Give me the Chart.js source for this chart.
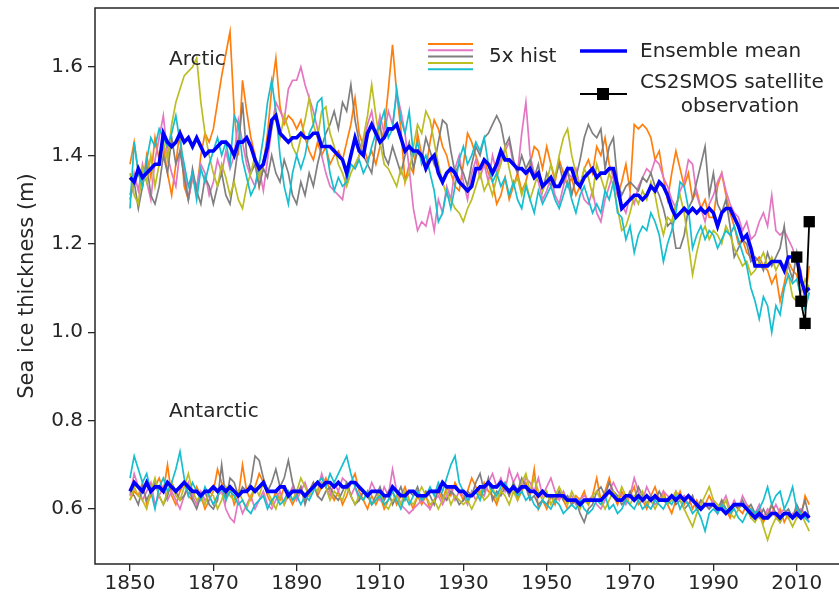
<!DOCTYPE html>
<html>
<head>
<meta charset="utf-8">
<script src="https://cdn.jsdelivr.net/npm/chart.js@4.4.1/dist/chart.umd.min.js"></script>
<style>
  html, body { margin: 0; padding: 0; background: #fff; overflow: hidden; }
  #wrap { width: 860px; height: 600px; position: relative; }
</style>
</head>
<body>
<div id="wrap"><canvas id="ice_chart" width="860" height="600"></canvas></div>
<script>
// years 1850..2013, one value per year
var firstYear = 1850;
var nYears = 164;
var years = Array.from({length: nYears}, function(_, i) { return firstYear + i; });

var xTicks = [1850, 1870, 1890, 1910, 1930, 1950, 1970, 1990, 2010];
var yTicks = [0.6, 0.8, 1.0, 1.2, 1.4, 1.6];

// Arctic, 5 historical members
var arcOrange = [
  1.38,1.43,1.36,1.33,1.40,1.35,1.44,1.39,1.42,1.36,
  1.31,1.38,1.46,1.33,1.30,1.35,1.32,1.40,1.45,1.43,
  1.46,1.52,1.58,1.63,1.68,1.50,1.40,1.57,1.50,1.44,
  1.40,1.33,1.38,1.45,1.55,1.62,1.51,1.47,1.49,1.48,
  1.46,1.48,1.44,1.41,1.39,1.43,1.40,1.42,1.38,1.40,
  1.41,1.39,1.43,1.47,1.53,1.45,1.42,1.39,1.41,1.38,
  1.42,1.46,1.55,1.65,1.54,1.46,1.34,1.38,1.36,1.45,
  1.40,1.37,1.43,1.48,1.46,1.42,1.40,1.36,1.33,1.32,
  1.38,1.45,1.43,1.40,1.37,1.39,1.36,1.34,1.29,1.31,
  1.35,1.30,1.33,1.36,1.32,1.34,1.38,1.42,1.41,1.37,
  1.42,1.38,1.34,1.39,1.36,1.33,1.35,1.31,1.33,1.37,
  1.39,1.36,1.42,1.40,1.44,1.38,1.35,1.31,1.34,1.38,
  1.32,1.47,1.46,1.47,1.46,1.44,1.39,1.41,1.35,1.30,
  1.36,1.41,1.37,1.33,1.36,1.30,1.32,1.28,1.30,1.26,
  1.26,1.33,1.36,1.31,1.27,1.24,1.20,1.21,1.18,1.17,
  1.16,1.17,1.15,1.14,1.11,1.13,1.07,1.11,1.16,1.14,
  1.13,1.08,1.07,1.15
];
var arcPink = [
  1.31,1.36,1.32,1.38,1.34,1.30,1.39,1.44,1.49,1.40,
  1.36,1.33,1.41,1.37,1.30,1.35,1.33,1.38,1.36,1.31,
  1.34,1.39,1.36,1.41,1.37,1.40,1.48,1.43,1.38,1.35,
  1.33,1.37,1.32,1.39,1.46,1.52,1.50,1.48,1.55,1.57,
  1.57,1.60,1.56,1.53,1.50,1.46,1.40,1.36,1.33,1.32,
  1.31,1.30,1.36,1.38,1.37,1.40,1.43,1.47,1.50,1.44,
  1.49,1.45,1.50,1.47,1.54,1.50,1.45,1.37,1.28,1.23,
  1.25,1.24,1.28,1.23,1.30,1.27,1.33,1.30,1.37,1.40,
  1.34,1.30,1.36,1.39,1.35,1.38,1.34,1.40,1.36,1.39,
  1.41,1.43,1.38,1.36,1.45,1.52,1.40,1.36,1.34,1.30,
  1.32,1.35,1.31,1.29,1.33,1.36,1.35,1.37,1.33,1.30,
  1.29,1.32,1.27,1.25,1.30,1.33,1.36,1.31,1.29,1.27,
  1.31,1.29,1.33,1.35,1.37,1.36,1.39,1.38,1.35,1.33,
  1.30,1.28,1.32,1.34,1.39,1.38,1.31,1.28,1.25,1.29,
  1.31,1.34,1.36,1.32,1.29,1.27,1.26,1.23,1.25,1.21,
  1.22,1.25,1.27,1.24,1.31,1.23,1.22,1.23,1.21,1.19,
  1.16,1.14,1.06,1.09
];
var arcGray = [
  1.30,1.34,1.28,1.33,1.38,1.31,1.29,1.33,1.40,1.36,
  1.44,1.38,1.41,1.35,1.30,1.37,1.32,1.29,1.35,1.33,
  1.29,1.33,1.36,1.31,1.29,1.35,1.42,1.52,1.40,1.36,
  1.38,1.33,1.37,1.35,1.40,1.36,1.34,1.39,1.36,1.31,
  1.29,1.34,1.31,1.36,1.33,1.38,1.42,1.45,1.47,1.50,
  1.46,1.52,1.50,1.56,1.48,1.43,1.40,1.38,1.36,1.43,
  1.47,1.40,1.38,1.42,1.39,1.36,1.40,1.43,1.37,1.41,
  1.39,1.44,1.41,1.38,1.43,1.48,1.47,1.41,1.36,1.38,
  1.36,1.33,1.38,1.42,1.40,1.44,1.45,1.47,1.49,1.47,
  1.42,1.44,1.39,1.36,1.40,1.37,1.39,1.35,1.38,1.32,
  1.36,1.33,1.35,1.38,1.34,1.37,1.31,1.35,1.39,1.44,
  1.47,1.45,1.44,1.46,1.37,1.42,1.44,1.34,1.31,1.33,
  1.34,1.33,1.32,1.35,1.34,1.36,1.33,1.31,1.28,1.24,
  1.25,1.19,1.19,1.22,1.28,1.30,1.34,1.38,1.42,1.31,
  1.36,1.29,1.27,1.30,1.24,1.17,1.19,1.21,1.20,1.16,
  1.17,1.16,1.14,1.18,1.15,1.17,1.19,1.24,1.15,1.12,
  1.18,1.12,1.09,1.10
];
var arcOlive = [
  1.36,1.31,1.29,1.37,1.34,1.40,1.33,1.38,1.43,1.39,
  1.47,1.52,1.55,1.58,1.59,1.60,1.62,1.52,1.45,1.40,
  1.36,1.33,1.38,1.35,1.31,1.34,1.30,1.28,1.33,1.36,
  1.40,1.35,1.39,1.43,1.46,1.50,1.44,1.49,1.46,1.42,
  1.40,1.44,1.48,1.53,1.47,1.44,1.50,1.51,1.45,1.42,
  1.38,1.36,1.33,1.36,1.38,1.40,1.44,1.49,1.56,1.49,
  1.43,1.38,1.37,1.35,1.33,1.37,1.34,1.36,1.42,1.47,
  1.45,1.50,1.48,1.43,1.38,1.34,1.31,1.30,1.28,1.27,
  1.25,1.28,1.30,1.33,1.36,1.32,1.34,1.31,1.35,1.38,
  1.42,1.37,1.33,1.35,1.31,1.34,1.30,1.33,1.36,1.32,
  1.34,1.38,1.35,1.40,1.44,1.46,1.40,1.36,1.33,1.37,
  1.35,1.31,1.38,1.35,1.32,1.36,1.33,1.28,1.23,1.24,
  1.27,1.31,1.29,1.32,1.30,1.34,1.31,1.26,1.22,1.26,
  1.25,1.29,1.31,1.27,1.20,1.13,1.18,1.22,1.24,1.21,
  1.23,1.22,1.20,1.24,1.22,1.19,1.17,1.15,1.16,1.13,
  1.14,1.16,1.18,1.15,1.17,1.14,1.16,1.15,1.13,1.08,
  1.07,1.09,1.12,1.10
];
var arcCyan = [
  1.28,1.43,1.36,1.33,1.39,1.44,1.42,1.46,1.44,1.42,
  1.45,1.49,1.43,1.38,1.33,1.36,1.30,1.37,1.34,1.38,
  1.41,1.44,1.40,1.43,1.38,1.49,1.47,1.39,1.35,1.31,
  1.33,1.38,1.44,1.52,1.57,1.50,1.40,1.33,1.29,1.36,
  1.40,1.37,1.40,1.45,1.47,1.52,1.53,1.42,1.36,1.32,
  1.35,1.33,1.34,1.38,1.37,1.39,1.36,1.38,1.42,1.45,
  1.47,1.50,1.44,1.46,1.55,1.48,1.45,1.50,1.40,1.43,
  1.38,1.40,1.36,1.32,1.25,1.27,1.32,1.28,1.33,1.39,
  1.42,1.38,1.40,1.43,1.41,1.44,1.38,1.34,1.36,1.33,
  1.35,1.31,1.34,1.30,1.28,1.33,1.30,1.27,1.32,1.29,
  1.31,1.33,1.30,1.28,1.31,1.34,1.30,1.27,1.31,1.33,
  1.30,1.27,1.29,1.27,1.32,1.30,1.34,1.27,1.26,1.21,
  1.24,1.18,1.22,1.24,1.23,1.27,1.25,1.22,1.16,1.20,
  1.23,1.27,1.34,1.33,1.28,1.19,1.22,1.24,1.21,1.23,
  1.22,1.19,1.21,1.23,1.22,1.24,1.21,1.18,1.15,1.10,
  1.07,1.03,1.08,1.06,1.00,1.06,1.04,1.10,1.13,1.11,
  1.12,1.08,1.05,1.09
];
var arcMean = [
  1.35,1.34,1.37,1.35,1.36,1.37,1.38,1.38,1.45,1.43,
  1.42,1.43,1.45,1.43,1.44,1.42,1.44,1.42,1.40,1.41,
  1.41,1.42,1.43,1.43,1.42,1.40,1.43,1.43,1.44,1.42,
  1.39,1.37,1.38,1.42,1.48,1.49,1.45,1.44,1.43,1.44,
  1.44,1.45,1.44,1.44,1.45,1.45,1.42,1.42,1.42,1.41,
  1.40,1.39,1.36,1.40,1.44,1.41,1.40,1.45,1.47,1.45,
  1.43,1.44,1.46,1.46,1.47,1.44,1.41,1.42,1.41,1.41,
  1.40,1.37,1.39,1.40,1.36,1.34,1.36,1.37,1.36,1.34,
  1.33,1.32,1.33,1.37,1.37,1.39,1.38,1.36,1.38,1.41,
  1.39,1.39,1.38,1.37,1.37,1.36,1.37,1.35,1.36,1.33,
  1.34,1.35,1.33,1.33,1.35,1.37,1.37,1.34,1.33,1.35,
  1.36,1.37,1.35,1.36,1.36,1.37,1.37,1.33,1.28,1.29,
  1.30,1.31,1.31,1.30,1.31,1.33,1.32,1.34,1.33,1.31,
  1.28,1.26,1.27,1.28,1.27,1.28,1.27,1.28,1.27,1.28,
  1.27,1.24,1.27,1.28,1.28,1.26,1.24,1.21,1.22,1.19,
  1.15,1.15,1.15,1.15,1.16,1.16,1.16,1.14,1.17,1.17,
  1.17,1.12,1.09,1.10
];

// Antarctic, 5 historical members
var antOrange = [
  0.62,0.64,0.63,0.66,0.61,0.63,0.65,0.67,0.64,0.70,
  0.63,0.61,0.64,0.66,0.63,0.62,0.65,0.63,0.60,0.62,
  0.64,0.69,0.66,0.63,0.65,0.61,0.63,0.70,0.64,0.62,
  0.65,0.68,0.66,0.63,0.61,0.64,0.62,0.65,0.63,0.61,
  0.63,0.65,0.62,0.64,0.66,0.63,0.65,0.67,0.64,0.62,
  0.64,0.61,0.63,0.66,0.68,0.64,0.62,0.60,0.63,0.61,
  0.63,0.60,0.62,0.64,0.61,0.63,0.65,0.62,0.60,0.63,
  0.61,0.63,0.60,0.62,0.64,0.62,0.65,0.63,0.66,0.64,
  0.62,0.64,0.67,0.65,0.63,0.66,0.64,0.63,0.61,0.64,
  0.66,0.63,0.65,0.62,0.64,0.66,0.63,0.69,0.60,0.62,
  0.60,0.63,0.61,0.64,0.62,0.60,0.61,0.63,0.62,0.64,
  0.61,0.63,0.67,0.62,0.64,0.67,0.63,0.61,0.64,0.62,
  0.63,0.65,0.61,0.62,0.60,0.63,0.65,0.62,0.64,0.61,
  0.59,0.62,0.64,0.61,0.63,0.60,0.62,0.60,0.61,0.63,
  0.61,0.59,0.62,0.60,0.58,0.61,0.60,0.59,0.61,0.60,
  0.58,0.60,0.57,0.59,0.61,0.58,0.60,0.57,0.59,0.58,
  0.60,0.58,0.63,0.61
];
var antPink = [
  0.63,0.68,0.65,0.62,0.64,0.66,0.61,0.63,0.65,0.62,
  0.64,0.62,0.60,0.63,0.66,0.63,0.61,0.64,0.62,0.63,
  0.61,0.63,0.64,0.60,0.58,0.57,0.62,0.59,0.61,0.63,
  0.60,0.62,0.64,0.61,0.60,0.62,0.64,0.61,0.63,0.65,
  0.62,0.64,0.66,0.63,0.65,0.64,0.68,0.65,0.63,0.66,
  0.64,0.67,0.66,0.63,0.65,0.62,0.64,0.63,0.66,0.64,
  0.62,0.65,0.63,0.69,0.64,0.61,0.60,0.59,0.60,0.61,
  0.62,0.61,0.60,0.62,0.63,0.61,0.63,0.65,0.62,0.64,
  0.63,0.61,0.64,0.62,0.64,0.63,0.66,0.68,0.65,0.67,
  0.64,0.69,0.66,0.68,0.65,0.67,0.66,0.64,0.67,0.63,
  0.65,0.67,0.64,0.62,0.64,0.62,0.63,0.61,0.62,0.63,
  0.62,0.63,0.61,0.60,0.62,0.64,0.66,0.64,0.63,0.61,
  0.63,0.67,0.64,0.62,0.65,0.63,0.61,0.62,0.64,0.63,
  0.62,0.64,0.62,0.63,0.61,0.63,0.60,0.62,0.61,0.60,
  0.62,0.59,0.61,0.63,0.60,0.62,0.60,0.63,0.61,0.58,
  0.59,0.61,0.58,0.60,0.59,0.61,0.59,0.60,0.58,0.59,
  0.58,0.60,0.59,0.57
];
var antGray = [
  0.64,0.63,0.61,0.65,0.62,0.64,0.66,0.63,0.61,0.63,
  0.66,0.64,0.62,0.63,0.65,0.62,0.60,0.63,0.64,0.61,
  0.60,0.62,0.70,0.62,0.67,0.66,0.63,0.65,0.64,0.66,
  0.72,0.71,0.67,0.64,0.66,0.69,0.65,0.67,0.71,0.66,
  0.63,0.65,0.61,0.64,0.66,0.63,0.62,0.64,0.65,0.63,
  0.62,0.64,0.66,0.63,0.61,0.62,0.64,0.63,0.61,0.63,
  0.65,0.62,0.64,0.61,0.63,0.65,0.62,0.64,0.63,0.65,
  0.62,0.64,0.63,0.61,0.65,0.63,0.62,0.64,0.63,0.61,
  0.62,0.64,0.63,0.66,0.68,0.64,0.67,0.62,0.64,0.63,
  0.65,0.63,0.66,0.64,0.67,0.65,0.62,0.63,0.61,0.62,
  0.61,0.63,0.62,0.64,0.62,0.63,0.61,0.62,0.59,0.57,
  0.60,0.61,0.64,0.65,0.63,0.66,0.64,0.63,0.61,0.62,
  0.64,0.62,0.65,0.63,0.61,0.63,0.62,0.64,0.62,0.61,
  0.63,0.61,0.62,0.60,0.61,0.63,0.60,0.62,0.61,0.60,
  0.61,0.60,0.62,0.60,0.59,0.61,0.60,0.62,0.60,0.61,
  0.59,0.58,0.60,0.58,0.61,0.59,0.57,0.59,0.60,0.58,
  0.61,0.59,0.62,0.58
];
var antOlive = [
  0.62,0.65,0.63,0.62,0.60,0.64,0.67,0.63,0.61,0.64,
  0.66,0.63,0.62,0.65,0.68,0.64,0.62,0.63,0.61,0.64,
  0.63,0.60,0.62,0.65,0.63,0.62,0.64,0.62,0.60,0.63,
  0.65,0.63,0.66,0.64,0.62,0.60,0.63,0.61,0.64,0.62,
  0.64,0.67,0.65,0.63,0.65,0.64,0.66,0.65,0.62,0.64,
  0.63,0.62,0.65,0.63,0.61,0.63,0.62,0.64,0.61,0.62,
  0.64,0.61,0.60,0.62,0.63,0.61,0.64,0.62,0.61,0.63,
  0.65,0.63,0.61,0.62,0.60,0.62,0.64,0.61,0.63,0.62,
  0.61,0.62,0.60,0.62,0.64,0.62,0.63,0.65,0.62,0.64,
  0.63,0.61,0.64,0.62,0.66,0.68,0.64,0.67,0.64,0.62,
  0.64,0.61,0.63,0.65,0.63,0.61,0.64,0.62,0.60,0.62,
  0.61,0.63,0.64,0.62,0.60,0.62,0.64,0.62,0.65,0.63,
  0.61,0.63,0.62,0.64,0.61,0.62,0.60,0.62,0.63,0.61,
  0.62,0.64,0.62,0.60,0.58,0.56,0.59,0.61,0.63,0.65,
  0.62,0.61,0.60,0.62,0.59,0.58,0.60,0.61,0.60,0.58,
  0.57,0.59,0.56,0.53,0.56,0.58,0.57,0.59,0.58,0.56,
  0.58,0.59,0.57,0.55
];
var antCyan = [
  0.67,0.72,0.69,0.66,0.68,0.64,0.60,0.65,0.67,0.64,
  0.66,0.69,0.73,0.67,0.63,0.66,0.64,0.62,0.65,0.63,
  0.61,0.63,0.65,0.62,0.64,0.63,0.61,0.62,0.60,0.59,
  0.61,0.62,0.63,0.60,0.62,0.63,0.61,0.62,0.64,0.62,
  0.63,0.61,0.63,0.62,0.64,0.66,0.67,0.65,0.68,0.66,
  0.68,0.70,0.72,0.68,0.65,0.63,0.62,0.64,0.61,0.62,
  0.63,0.61,0.62,0.64,0.62,0.60,0.63,0.61,0.63,0.64,
  0.62,0.63,0.65,0.63,0.66,0.64,0.67,0.70,0.72,0.66,
  0.64,0.62,0.63,0.64,0.62,0.65,0.66,0.64,0.63,0.65,
  0.66,0.64,0.65,0.63,0.64,0.62,0.63,0.61,0.60,0.62,
  0.61,0.60,0.62,0.61,0.59,0.60,0.61,0.60,0.62,0.60,
  0.59,0.60,0.62,0.61,0.63,0.60,0.61,0.59,0.60,0.62,
  0.61,0.60,0.62,0.60,0.61,0.60,0.62,0.61,0.60,0.62,
  0.61,0.63,0.60,0.62,0.61,0.59,0.60,0.58,0.55,0.59,
  0.60,0.59,0.61,0.60,0.59,0.60,0.58,0.57,0.59,0.60,
  0.59,0.60,0.62,0.65,0.61,0.63,0.64,0.60,0.62,0.65,
  0.60,0.59,0.58,0.57
];
var antMean = [
  0.64,0.66,0.65,0.64,0.66,0.64,0.65,0.65,0.64,0.66,
  0.65,0.64,0.65,0.66,0.65,0.64,0.64,0.63,0.64,0.64,
  0.65,0.64,0.65,0.64,0.65,0.64,0.63,0.64,0.64,0.65,
  0.64,0.65,0.66,0.64,0.64,0.64,0.65,0.65,0.63,0.64,
  0.64,0.64,0.63,0.64,0.65,0.66,0.65,0.66,0.66,0.65,
  0.66,0.65,0.65,0.66,0.66,0.65,0.64,0.63,0.64,0.64,
  0.64,0.63,0.63,0.65,0.64,0.63,0.63,0.64,0.64,0.63,
  0.63,0.63,0.64,0.64,0.64,0.66,0.65,0.65,0.65,0.64,
  0.64,0.63,0.63,0.64,0.65,0.65,0.66,0.65,0.65,0.66,
  0.65,0.64,0.65,0.64,0.65,0.65,0.64,0.64,0.63,0.64,
  0.63,0.63,0.63,0.63,0.63,0.62,0.62,0.62,0.61,0.62,
  0.62,0.62,0.62,0.62,0.63,0.64,0.63,0.62,0.62,0.63,
  0.63,0.62,0.63,0.62,0.63,0.62,0.63,0.62,0.62,0.62,
  0.63,0.62,0.63,0.62,0.63,0.62,0.61,0.60,0.61,0.61,
  0.61,0.60,0.60,0.59,0.60,0.61,0.61,0.61,0.60,0.59,
  0.58,0.59,0.58,0.58,0.59,0.59,0.58,0.59,0.59,0.58,
  0.59,0.58,0.59,0.58
];

// CS2SMOS satellite observation
var obsYears = [2010, 2011, 2012, 2013];
var obsValues = [1.17, 1.07, 1.02, 1.25];

var memberColors = {
    orange: '#ff7f0e',
    pink:   '#e377c2',
    gray:   '#7f7f7f',
    olive:  '#bcbd22',
    cyan:   '#17becf'
};
var textColor = '#262626';
var spineColor = '#262626';
var fontFamily = '"DejaVu Sans", sans-serif';

function pts(xs, ys) {
    return xs.map(function(x, i) { return {x: x, y: ys[i]}; });
}

function member(data, col) {
    return {
        data: pts(years, data),
        borderColor: col,
        borderWidth: 1.7,
        pointRadius: 0,
        fill: false,
        tension: 0
    };
}

// first dataset is drawn on top
var datasets = [
    {
        data: pts(obsYears, obsValues),
        borderColor: '#000',
        backgroundColor: '#000',
        borderWidth: 1.8,
        pointStyle: 'rect',
        pointRadius: 8,
        pointBorderWidth: 0,
        tension: 0
    },
    { data: pts(years, arcMean), borderColor: '#0000ff', borderWidth: 3.6, pointRadius: 0, tension: 0 },
    { data: pts(years, antMean), borderColor: '#0000ff', borderWidth: 3.6, pointRadius: 0, tension: 0 },
    member(arcCyan, memberColors.cyan),
    member(arcOlive, memberColors.olive),
    member(arcGray, memberColors.gray),
    member(arcPink, memberColors.pink),
    member(arcOrange, memberColors.orange),
    member(antCyan, memberColors.cyan),
    member(antOlive, memberColors.olive),
    member(antGray, memberColors.gray),
    member(antPink, memberColors.pink),
    member(antOrange, memberColors.orange)
];

// spines, region labels and the hand-made legend
var decorations = {
    id: 'decorations',
    afterDraw: function(chart) {
        var ctx = chart.ctx;
        var a = chart.chartArea;
        ctx.save();
        ctx.strokeStyle = spineColor;
        ctx.lineWidth = 1.5;
        ctx.beginPath();
        ctx.moveTo(a.right, a.top);
        ctx.lineTo(a.left, a.top);
        ctx.lineTo(a.left, a.bottom);
        ctx.lineTo(a.right, a.bottom);
        ctx.stroke();

        ctx.fillStyle = textColor;
        ctx.font = '20px ' + fontFamily;
        ctx.textBaseline = 'middle';
        ctx.textAlign = 'left';
        ctx.fillText('Arctic', 169, 60);
        ctx.fillText('Antarctic', 169, 412);

        // legend: five member colours stacked
        var stack = [memberColors.orange, memberColors.pink, memberColors.gray, memberColors.olive, memberColors.cyan];
        ctx.lineWidth = 2;
        stack.forEach(function(c, i) {
            ctx.strokeStyle = c;
            ctx.beginPath();
            ctx.moveTo(428, 44 + i * 6.3);
            ctx.lineTo(473, 44 + i * 6.3);
            ctx.stroke();
        });
        ctx.fillText('5x hist', 489, 57);

        ctx.strokeStyle = '#0000ff';
        ctx.lineWidth = 3.6;
        ctx.beginPath();
        ctx.moveTo(580, 51);
        ctx.lineTo(627, 51);
        ctx.stroke();
        ctx.fillText('Ensemble mean', 640, 52);

        ctx.strokeStyle = '#000';
        ctx.lineWidth = 1.8;
        ctx.beginPath();
        ctx.moveTo(580, 94);
        ctx.lineTo(627, 94);
        ctx.stroke();
        ctx.fillStyle = '#000';
        ctx.fillRect(597, 88, 12, 12);
        ctx.fillStyle = textColor;
        ctx.fillText('CS2SMOS satellite', 640, 83);
        ctx.textAlign = 'center';
        ctx.fillText('observation', 740, 107);
        ctx.restore();
    }
};

Chart.defaults.font.family = fontFamily;
Chart.defaults.color = textColor;

var config = {
    type: 'line',
    data: { datasets: datasets },
    options: {
        responsive: false,
        animation: false,
        events: [],
        layout: { autoPadding: false, padding: { top: 8, right: 17, left: 0, bottom: 0 } },
        plugins: { legend: { display: false }, tooltip: { enabled: false } },
        scales: {
            x: {
                type: 'linear',
                min: 1841.6,
                max: 2021.1,
                afterFit: function(scale) {
                    scale.height = 36;
                    scale.paddingLeft = 0;
                    scale.paddingRight = 0;
                },
                afterBuildTicks: function(scale) {
                    scale.ticks = xTicks.map(function(v) { return {value: v}; });
                },
                ticks: {
                    font: { size: 20 },
                    color: textColor,
                    padding: 1,
                    maxRotation: 0,
                    autoSkip: false,
                    callback: function(v) { return String(v); }
                },
                grid: { drawOnChartArea: false, tickLength: 7, color: spineColor, lineWidth: 1.3 },
                border: { display: false }
            },
            y: {
                type: 'linear',
                min: 0.4756,
                max: 1.7335,
                afterFit: function(scale) {
                    scale.width = 95;
                    scale.paddingTop = 0;
                    scale.paddingBottom = 0;
                },
                afterBuildTicks: function(scale) {
                    scale.ticks = yTicks.map(function(v) { return {value: v}; });
                },
                ticks: {
                    font: { size: 20 },
                    color: textColor,
                    padding: 5,
                    autoSkip: false,
                    callback: function(v) { return v.toFixed(1); }
                },
                grid: { drawOnChartArea: false, tickLength: 7, color: spineColor, lineWidth: 1.3 },
                border: { display: false },
                title: {
                    display: true,
                    text: 'Sea ice thickness (m)',
                    font: { size: 21 },
                    color: textColor,
                    padding: { top: 15, bottom: 0 }
                }
            }
        }
    },
    plugins: [decorations]
};

var canvas = document.getElementById('ice_chart').getContext('2d');
window.chart = new Chart(canvas, config);
</script>
</body>
</html>
